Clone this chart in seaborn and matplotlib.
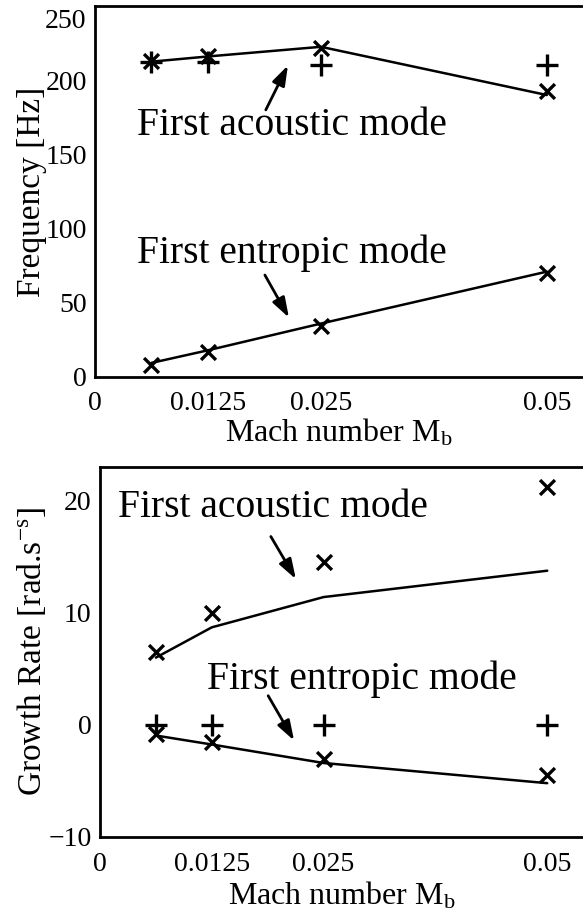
import matplotlib
matplotlib.use("Agg")
import matplotlib.pyplot as plt
import seaborn as sns
import matplotlib.transforms as mtransforms

# ---- data ----
mach = [0.00625, 0.0125, 0.025, 0.05]
xtick_vals = [0, 0.0125, 0.025, 0.05]
xtick_labels = ["0", "0.0125", "0.025", "0.05"]

freq_acoustic_model = [212.5, 216, 222.5, 190]
freq_acoustic_x = [213, 216, 222, 193]
freq_acoustic_plus = [212, 212, 210.5, 210]
freq_entropic_model = [9.5, 18, 36, 71]
freq_entropic_x = [8, 17, 34.5, 70]
freq_yticks = [0, 50, 100, 150, 200, 250]

growth_acoustic_model = [6.0, 8.7, 11.4, 13.75]
growth_acoustic_x = [6.5, 10.0, 14.5, 21.2]
growth_entropic_model = [-0.95, -1.75, -3.4, -5.2]
growth_entropic_x = [-0.8, -1.55, -3.0, -4.5]
growth_plus = [0, 0, 0, 0]
growth_yticks = [-10, 0, 10, 20]

sns.set_style("white")
plt.rcParams["font.family"] = ["Liberation Serif", "DejaVu Serif"]
plt.rcParams["mathtext.fontset"] = "custom"
plt.rcParams["mathtext.rm"] = "Liberation Serif"
plt.rcParams["mathtext.it"] = "Liberation Serif:italic"
plt.rcParams["text.color"] = "black"
plt.rcParams["axes.labelcolor"] = "black"

W, H = 583, 911
fig = plt.figure(figsize=(W / 100, H / 100), dpi=100)

def axrect(left, top, bottom):
    return [left / W, 1 - bottom / H, 1 - left / W, (bottom - top) / H]

ax1 = fig.add_axes(axrect(95, 6, 377))
ax2 = fig.add_axes(axrect(100, 467, 837))

FS = 20
AFS = 28.5
LFS = 24
LW_LINE = 1.8
XS = 115
PS = 230
MLW = 2.4
ARROW = dict(arrowstyle="-|>,head_length=0.6,head_width=0.2", color="black",
             lw=2, mutation_scale=20, shrinkA=0, shrinkB=0)

def style(ax, yticks, ylim, xpad):
    ax.set_xlim(0, 0.054)
    ax.set_ylim(*ylim)
    ax.set_xticks(xtick_vals)
    ax.set_xticklabels(xtick_labels)
    ax.set_yticks(yticks)
    for s in ["left", "bottom", "top"]:
        ax.spines[s].set_visible(True)
        ax.spines[s].set_color("black")
        ax.spines[s].set_linewidth(2.0)
    ax.spines["right"].set_visible(False)
    ax.tick_params(direction="in", length=6, width=2.0, labelsize=FS,
                   colors="black", top=False, right=False)
    ax.tick_params(axis="x", pad=xpad)
    ax.tick_params(axis="y", pad=6)
    ax.grid(False)

# ---- top: frequency ----
sns.lineplot(x=mach, y=freq_acoustic_model, color="black", lw=LW_LINE, ax=ax1)
sns.lineplot(x=mach, y=freq_entropic_model, color="black", lw=LW_LINE, ax=ax1)
sns.scatterplot(x=mach, y=freq_acoustic_x, marker="x", s=XS, color="black",
                linewidth=MLW, ax=ax1, zorder=3)
sns.scatterplot(x=mach, y=freq_acoustic_plus, marker="+", s=PS, color="black",
                linewidth=MLW, ax=ax1, zorder=3)
sns.scatterplot(x=mach, y=freq_entropic_x, marker="x", s=XS, color="black",
                linewidth=MLW, ax=ax1, zorder=3)
style(ax1, freq_yticks, (0, 250), 10)
ax1.set_xlabel("Mach number M$_\\mathregular{b}$", fontsize=23, labelpad=1)
ax1.set_ylabel("Frequency [Hz]", fontsize=LFS)
ax1.yaxis.set_label_coords(-0.098, 0.5)

ax1.text(0.02174, 163, "First acoustic mode", fontsize=AFS, ha="center", va="baseline")
ax1.annotate("", xy=(0.02135, 210), xytext=(0.0189, 180), arrowprops=ARROW)
ax1.text(0.02174, 76.8, "First entropic mode", fontsize=AFS, ha="center", va="baseline")
ax1.annotate("", xy=(0.02146, 40), xytext=(0.0188, 68.7), arrowprops=ARROW)

# shift the top "250" label down like the reference
for lab in ax1.get_yticklabels():
    if lab.get_text() == "250":
        lab.set_transform(lab.get_transform() +
                          mtransforms.ScaledTranslation(0, -12 / 100, fig.dpi_scale_trans))

# ---- bottom: growth rate ----
sns.lineplot(x=mach, y=growth_acoustic_model, color="black", lw=LW_LINE, ax=ax2)
sns.lineplot(x=mach, y=growth_entropic_model, color="black", lw=LW_LINE, ax=ax2)
sns.scatterplot(x=mach, y=growth_acoustic_x, marker="x", s=XS, color="black",
                linewidth=MLW, ax=ax2, zorder=3)
sns.scatterplot(x=mach, y=growth_entropic_x, marker="x", s=XS, color="black",
                linewidth=MLW, ax=ax2, zorder=3)
sns.scatterplot(x=mach, y=growth_plus, marker="+", s=PS, color="black",
                linewidth=MLW, ax=ax2, zorder=3)
style(ax2, growth_yticks, (-10, 23), 11)
ax2.set_xlabel("Mach number M$_\\mathregular{b}$", fontsize=23, labelpad=2)
ax2.set_ylabel("Growth Rate [rad.s$^\\mathregular{-s}$]", fontsize=LFS)
ax2.yaxis.set_label_coords(-0.108, 0.5)

ax2.text(0.01935, 18.5, "First acoustic mode", fontsize=AFS, ha="center", va="baseline")
ax2.annotate("", xy=(0.0219, 13.0), xytext=(0.0191, 16.8), arrowprops=ARROW)
ax2.text(0.02925, 3.2, "First entropic mode", fontsize=AFS, ha="center", va="baseline")
ax2.annotate("", xy=(0.0217, -1.4), xytext=(0.0188, 2.6), arrowprops=ARROW)

fig.savefig("out.png", dpi=100)
